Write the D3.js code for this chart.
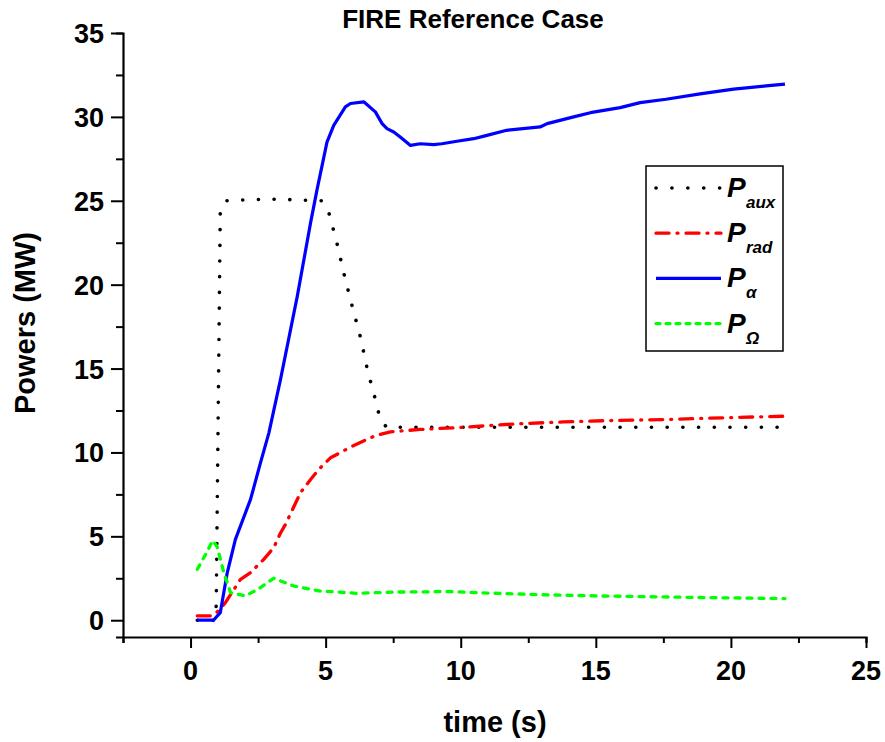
<!DOCTYPE html>
<html>
<head>
<meta charset="utf-8">
<script src="https://cdn.jsdelivr.net/npm/d3@7"></script>
<style>
  body { margin: 0; background: #fff; }
  svg text { font-family: "Liberation Sans", Arial, sans-serif; font-weight: bold; }
</style>
</head>
<body>
<svg id="chart" width="885" height="742"></svg>
<script>
// P_aux (black dotted)
const tAux = [0.25, 0.9, 0.95, 1.1, 1.3, 2, 3, 4, 4.85, 5.1, 5.4, 5.7, 6.0, 6.3, 6.55, 6.85, 7.0, 7.25, 8, 10, 12, 14, 16, 18, 20, 22];
const pAux = [0, 0, 0.9, 24.3, 25.0, 25.05, 25.1, 25.05, 25.0, 24.4, 22.6, 20.5, 18.6, 16.8, 14.9, 13.1, 12.1, 11.5, 11.5, 11.5, 11.5, 11.5, 11.5, 11.5, 11.5, 11.5];

// P_rad (red dash-dot)
const tRad = [0.25, 0.74, 0.9, 1.29, 1.85, 2.22, 2.71, 3.08, 3.33, 3.51, 4.07, 4.45, 4.75, 5.18, 5.98, 6.84, 7.4, 8.5, 10.1, 12, 13.8, 15.5, 17.5, 20, 22];
const pRad = [0.26, 0.26, 0.35, 1.05, 2.44, 2.84, 3.63, 4.33, 5.2, 5.7, 7.6, 8.4, 9.0, 9.68, 10.37, 11.0, 11.23, 11.37, 11.5, 11.7, 11.82, 11.9, 11.96, 12.08, 12.16];

// P_alpha (blue solid)
const tAlpha = [0.25, 0.85, 1.1, 1.36, 1.66, 2.22, 2.59, 2.9, 3.33, 3.95, 4.44, 4.68, 5.05, 5.3, 5.73, 5.92, 6.41, 6.84, 7.09, 7.27, 7.52, 7.76, 8.14, 8.5, 9.0, 9.3, 9.86, 10.48, 10.97, 11.7, 12.94, 13.2, 14.18, 14.8, 15.9, 16.64, 17.6, 18.86, 20.1, 21.3, 22.0];
const pAlpha = [0, 0, 0.45, 2.84, 4.82, 7.2, 9.39, 11.17, 14.35, 19.3, 23.67, 25.65, 28.5, 29.5, 30.6, 30.8, 30.9, 30.3, 29.6, 29.3, 29.1, 28.8, 28.3, 28.4, 28.35, 28.4, 28.55, 28.7, 28.9, 29.2, 29.4, 29.6, 30.0, 30.25, 30.55, 30.85, 31.05, 31.37, 31.65, 31.85, 31.95];

// P_Omega (green dashed)
const tOhm = [0.25, 0.55, 0.82, 0.98, 1.23, 1.48, 2.03, 2.5, 3.08, 3.82, 4.8, 5.18, 6.16, 7.52, 8.88, 9.37, 11, 13, 15.04, 17, 19, 22];
const pOhm = [3.04, 3.9, 4.75, 4.4, 2.84, 1.65, 1.45, 1.85, 2.5, 2.04, 1.74, 1.71, 1.6, 1.68, 1.69, 1.72, 1.62, 1.52, 1.45, 1.4, 1.35, 1.29];

const xTicks = [0, 5, 10, 15, 20, 25];
const yTicks = [0, 5, 10, 15, 20, 25, 30, 35];

const series = [
    { name: 'aux', t: tAux, p: pAux, color: '#000', dash: '0.1 15.6', legDash: '0.1 15.8', cap: 'round', width: 3.6 },
    { name: 'rad', t: tRad, p: pRad, color: '#ff0000', dash: '13 8 1 8', legDash: '13 8 1 8', cap: 'round', width: 3.3 },
    { name: 'α', t: tAlpha, p: pAlpha, color: '#0000ff', dash: null, legDash: null, cap: 'butt', width: 3.2 },
    { name: 'Ω', t: tOhm, p: pOhm, color: '#00ff00', dash: '5 7', legDash: '4 6', cap: 'round', width: 3.3 }
];

const svg = d3.select('#chart');

const x = d3.scaleLinear().domain([-2.5, 25]).range([123, 866]);
const y = d3.scaleLinear().domain([-1, 35]).range([637, 33]);

// axes
const xAxis = svg.append('g').attr('transform', `translate(0,${y(-1)})`);
xAxis.call(d3.axisBottom(x).tickValues(d3.range(-2.5, 25.1, 2.5)).tickSize(6).tickFormat(''));
xAxis.call(g => g.selectAll('.tick line').filter(d => xTicks.includes(d)).attr('y2', 11));

const yAxis = svg.append('g').attr('transform', `translate(${x(-2.5)},0)`);
yAxis.call(d3.axisLeft(y).tickValues(d3.range(0, 35.1, 2.5)).tickSize(7).tickFormat(''));
yAxis.call(g => g.selectAll('.tick line').filter(d => yTicks.includes(d)).attr('x2', -12));

[xAxis, yAxis].forEach(g => {
    g.select('.domain').attr('stroke', '#000').attr('stroke-width', 2.2);
    g.selectAll('.tick line').attr('stroke', '#000').attr('stroke-width', 2);
});

svg.append('g').selectAll('text')
    .data(xTicks)
    .join('text')
    .attr('x', d => x(d))
    .attr('y', 680)
    .attr('text-anchor', 'middle')
    .attr('font-size', 27)
    .text(d => d);

svg.append('g').selectAll('text')
    .data(yTicks)
    .join('text')
    .attr('x', 104)
    .attr('y', d => y(d) + 10)
    .attr('text-anchor', 'end')
    .attr('font-size', 27)
    .text(d => d);

// titles
svg.append('text')
    .attr('x', 473).attr('y', 28)
    .attr('text-anchor', 'middle')
    .attr('font-size', 26)
    .text('FIRE Reference Case');

svg.append('text')
    .attr('x', 495).attr('y', 732)
    .attr('text-anchor', 'middle')
    .attr('font-size', 29)
    .text('time (s)');

svg.append('text')
    .attr('transform', 'translate(35,323) rotate(-90)')
    .attr('text-anchor', 'middle')
    .attr('font-size', 29)
    .text('Powers (MW)');

// lines
const line = d3.line()
    .x(d => x(d[0]))
    .y(d => y(d[1]));

svg.append('g').selectAll('path')
    .data(series)
    .join('path')
    .attr('d', s => line(d3.zip(s.t, s.p)))
    .attr('fill', 'none')
    .attr('stroke', s => s.color)
    .attr('stroke-width', s => s.width)
    .attr('stroke-dasharray', s => s.dash)
    .attr('stroke-linecap', s => s.cap)
    .attr('stroke-linejoin', 'round');

// legend
const legend = svg.append('g');
legend.append('rect')
    .attr('x', 646).attr('y', 166)
    .attr('width', 137).attr('height', 185)
    .attr('fill', '#fff')
    .attr('stroke', '#000')
    .attr('stroke-width', 1.5);

const rows = legend.selectAll('g.row')
    .data(series)
    .join('g')
    .attr('class', 'row')
    .attr('transform', (d, i) => `translate(0,${188 + i * 45.2})`);

rows.append('line')
    .attr('x1', 656).attr('x2', 721)
    .attr('stroke', d => d.color)
    .attr('stroke-width', d => d.width)
    .attr('stroke-dasharray', d => d.legDash)
    .attr('stroke-linecap', d => d.cap);

rows.append('text')
    .attr('x', 727).attr('y', 9)
    .attr('font-size', 28)
    .attr('font-style', 'italic')
    .text('P');

rows.append('text')
    .attr('x', 746).attr('y', 20)
    .attr('font-size', 17)
    .attr('font-style', 'italic')
    .text(d => d.name);
</script>
</body>
</html>
